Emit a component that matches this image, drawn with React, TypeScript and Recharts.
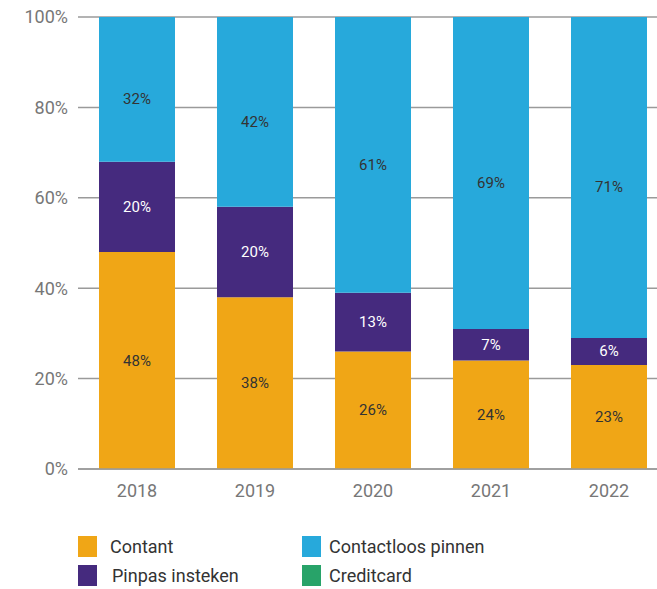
import React from 'react';
import { BarChart, Bar, XAxis, YAxis, CartesianGrid, Legend, LabelList } from 'recharts';

const years = ['2018', '2019', '2020', '2021', '2022'];
const contant = [48, 38, 26, 24, 23];
const pinpas = [20, 20, 13, 7, 6];
const contactloos = [32, 42, 61, 69, 71];
const creditcard = [0, 0, 0, 0, 0];
const yTicks = [0, 20, 40, 60, 80, 100];

const series = [
  { key: 'contant', name: 'Contant', color: '#F0A616', label: '#333333' },
  { key: 'pinpas', name: 'Pinpas insteken', color: '#452A7E', label: '#ffffff' },
  { key: 'contactloos', name: 'Contactloos pinnen', color: '#27A9DB', label: '#333333' },
  { key: 'creditcard', name: 'Creditcard', color: '#28A369', label: '#333333' },
];

const data = years.map((year, i) => ({
  year,
  contant: contant[i],
  pinpas: pinpas[i],
  contactloos: contactloos[i],
  creditcard: creditcard[i],
}));

const FONT = 'Roboto, sans-serif';

const legendOrder = [
  [series[0], series[2]],
  [series[1], series[3]],
];

const LegendBox = () => (
  <div style={{ height: 60, position: 'relative', fontFamily: FONT, fontSize: 18, color: '#333' }}>
    {legendOrder.map((row, r) =>
      row.map((s, c) => (
        <div
          key={s.key}
          style={{
            position: 'absolute',
            left: 78 + c * 224,
            top: 7 + r * 29,
            display: 'flex',
            alignItems: 'center',
            height: 21,
          }}
        >
          <span style={{ width: 19, height: 21, background: s.color, display: 'inline-block' }} />
          <span style={{ marginLeft: c === 1 ? 8 : r === 1 ? 15 : 13, lineHeight: '21px' }}>{s.name}</span>
        </div>
      ))
    )}
  </div>
);

const makeLabel = (color: string, dy: number) => (props: any) => {
  const { x, y, width, height, value } = props;
  if (!value) return null;
  return (
    <text
      x={x + width / 2}
      y={y + height / 2 + dy}
      fill={color}
      textAnchor="middle"
      dominantBaseline="central"
      fontFamily={FONT}
      fontSize={15}
    >
      {`${value}%`}
    </text>
  );
};

export default function App() {
  return (
    <div style={{ position: 'absolute', left: 0, top: 0, width: 657, height: 589, overflow: 'hidden', background: '#fff' }}>
      <BarChart
        width={680}
        height={589}
        data={data}
        margin={{ top: 17, right: 12, left: 0, bottom: 0 }}
        barSize={76}
      >
        <CartesianGrid vertical={false} stroke="#9a9a9a" strokeWidth={1.5} />
        <XAxis
          dataKey="year"
          height={60}
          tickLine={false}
          axisLine={{ stroke: '#9a9a9a', strokeWidth: 1.5 }}
          tickSize={0}
          tickMargin={15}
          tick={{ fill: '#777', fontSize: 18, fontFamily: FONT }}
        />
        <YAxis
          width={78}
          domain={[0, 100]}
          ticks={yTicks}
          tickFormatter={(v: number) => `${v}%`}
          axisLine={false}
          tickLine={false}
          tickSize={0}
          tickMargin={10}
          tick={{ fill: '#777', fontSize: 18, fontFamily: FONT }}
        />
        <Legend verticalAlign="bottom" content={() => <LegendBox />} />
        {series.map((s) => (
          <Bar key={s.key} dataKey={s.key} name={s.name} stackId="a" fill={s.color} isAnimationActive={false}>
            <LabelList dataKey={s.key} content={makeLabel(s.label, s.key === 'contactloos' ? 10 : 0)} />
          </Bar>
        ))}
      </BarChart>
    </div>
  );
}
